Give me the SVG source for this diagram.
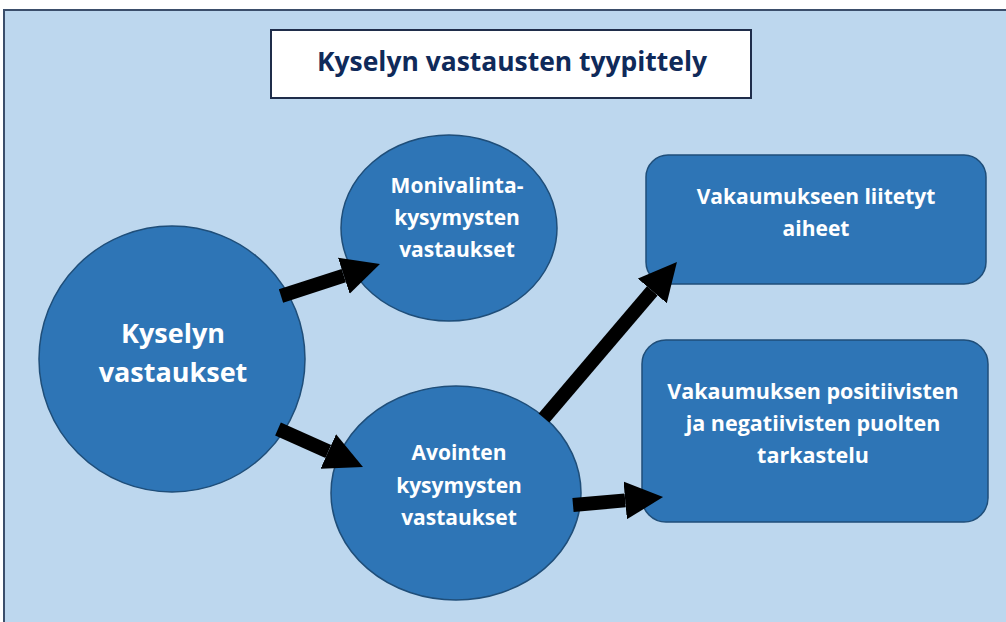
<svg xmlns="http://www.w3.org/2000/svg" width="1006" height="622" viewBox="0 0 1006 622">
<defs>
<style>
.node{fill:#2e75b6;stroke:#1f4e79;stroke-width:1.5}
.lbl{font-family:"Open Sans","Noto Sans",sans-serif;font-weight:bold;fill:#ffffff;text-anchor:middle}
.conn{stroke:#000;stroke-width:14;fill:none;marker-end:url(#ah)}
</style>
<marker id="ah" markerUnits="userSpaceOnUse" markerWidth="40" markerHeight="40" refX="0" refY="19" orient="auto">
<path d="M0,0 L38,19 L0,38 Z" fill="#000"/>
</marker>
</defs>
<rect x="0" y="0" width="1006" height="622" fill="#ffffff"/>
<rect x="4" y="10" width="1010" height="620" fill="#bdd7ee" stroke="#3b4e6b" stroke-width="2"/>
<g id="title">
<rect x="271" y="30" width="480" height="68" fill="#ffffff" stroke="#1f2d4a" stroke-width="2"/>
<text x="512" y="71" font-family="Open Sans, Noto Sans, sans-serif" font-weight="bold" font-size="26" fill="#0f2a5a" text-anchor="middle" textLength="390" lengthAdjust="spacingAndGlyphs">Kyselyn vastausten tyypittely</text>
</g>
<g id="kyselyn">
<circle class="node" cx="172" cy="359" r="133"/>
<text class="lbl" font-size="27"><tspan x="173" y="343">Kyselyn</tspan><tspan x="173" y="382">vastaukset</tspan></text>
</g>
<g id="monivalinta">
<ellipse class="node" cx="449" cy="228" rx="108" ry="93"/>
<text class="lbl" font-size="21"><tspan x="457" y="193">Monivalinta-</tspan><tspan x="457" y="225">kysymysten</tspan><tspan x="457" y="257">vastaukset</tspan></text>
</g>
<g id="avointen">
<ellipse class="node" cx="456" cy="493" rx="125" ry="107"/>
<text class="lbl" font-size="21"><tspan x="459" y="460">Avointen</tspan><tspan x="459" y="493">kysymysten</tspan><tspan x="459" y="525">vastaukset</tspan></text>
</g>
<g id="aiheet">
<rect class="node" x="646" y="155" width="340" height="129" rx="22"/>
<text class="lbl" font-size="21"><tspan x="816" y="204">Vakaumukseen liitetyt</tspan><tspan x="816" y="236">aiheet</tspan></text>
</g>
<g id="tarkastelu">
<rect class="node" x="642" y="340" width="346" height="182" rx="24"/>
<text class="lbl" font-size="21.5"><tspan x="813" y="399">Vakaumuksen positiivisten</tspan><tspan x="813" y="431">ja negatiivisten puolten</tspan><tspan x="813" y="463">tarkastelu</tspan></text>
</g>
<g id="connectors">
<line class="conn" x1="281" y1="296" x2="343.8" y2="275.7"/>
<line class="conn" x1="278" y1="429" x2="328.3" y2="451.5"/>
<line class="conn" x1="544" y1="418" x2="652.3" y2="290.9"/>
<line class="conn" x1="573" y1="505" x2="625.2" y2="500.4"/>
</g>
</svg>
